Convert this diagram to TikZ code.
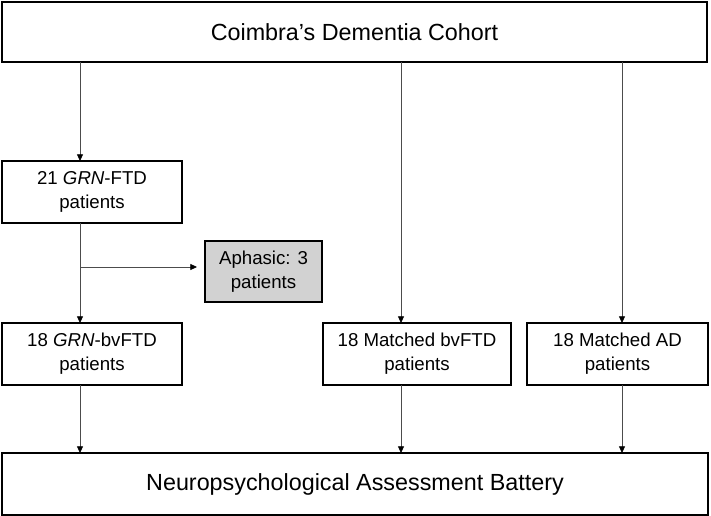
\documentclass[tikz,border=0pt]{standalone}
\usepackage{fontspec}
\setmainfont{Liberation Sans}
\usetikzlibrary{positioning}
\usetikzlibrary{arrows.meta}
\definecolor{aphgray}{RGB}{210,210,210}

\begin{document}
\begin{tikzpicture}[x=0.75pt,y=-0.75pt,
main box/.style={draw,line width=1pt,inner sep=0,outer sep=0,minimum height=46.5pt,
                 font=\fontsize{17.5}{21}\selectfont},
sub box/.style={draw,line width=1pt,inner sep=0,outer sep=0,minimum height=46.5pt,
                 align=center,font=\fontsize{14}{18}\selectfont},
flow/.style={draw=black!70,line width=0.6pt,-{Triangle[length=5pt,width=4.5pt,color=black]}}]
\useasboundingbox (0,0) rectangle (711,516);
\node[main box,minimum width=528.75pt,minimum height=45pt] (a) at (354.5,32) {Coimbra's Dementia Cohort};
%==================
\node[sub box,minimum width=135pt] (b) at (92,192) {21 \textit{GRN}-FTD\\patients};
\node[sub box,minimum width=87.75pt,minimum height=45.75pt,fill=aphgray] (c) at (263.5,271.5) {Aphasic: 3\\patients};
%==================
\node[sub box,minimum width=135pt] (d1) at (92,354) {18 \textit{GRN}-bvFTD\\patients};
\node[sub box,minimum width=141pt] (d2) at (417,354) {18 Matched bvFTD\\patients};
\node[sub box,minimum width=135.75pt] (d3) at (617.5,354) {18 Matched AD\\patients};
%==================
\node[main box,minimum width=529.5pt] (e) at (355,484) {Neuropsychological Assessment Battery};
% ===================
\coordinate (k1) at (80,0);
\coordinate (k2) at (401,0);
\coordinate (k3) at (622,0);
\coordinate (br) at (80,267);
\draw[flow] (a.south -| k1) -- (b.north -| k1);
\draw[flow] (b.south -| k1) -- (d1.north -| k1);
\draw[flow,shorten >=6pt] (br) -- (br -| c.west);
\draw[flow] (a.south -| k2) -- (d2.north -| k2);
\draw[flow] (a.south -| k3) -- (d3.north -| k3);
\foreach \x/\k in {1/k1,2/k2,3/k3}{
\draw[flow] (d\x.south -| \k) -- (e.north -| \k);
}
\end{tikzpicture}
\end{document}
